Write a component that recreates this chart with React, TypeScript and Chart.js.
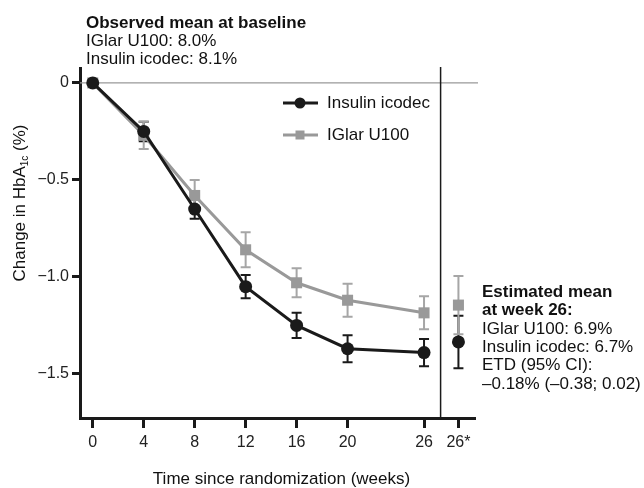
import React, { useEffect, useRef } from "react";
import { Chart, registerables } from "chart.js";

Chart.register(...registerables);

const weeks = [0, 4, 8, 12, 16, 20, 26];
const icodecMean = [0, -0.25, -0.65, -1.05, -1.25, -1.37, -1.39];
const icodecErr = [0, 0.05, 0.05, 0.06, 0.065, 0.07, 0.07];
const iglarMean = [0, -0.27, -0.58, -0.86, -1.03, -1.12, -1.185];
const iglarErr = [0, 0.07, 0.08, 0.09, 0.075, 0.085, 0.085];
const estWeek = [28.7];
const icodecEst = [-1.335];
const icodecEstErr = [0.135];
const iglarEst = [-1.145];
const iglarEstErr = [0.15];
const xTickValues = [0, 4, 8, 12, 16, 20, 26, 28.7];
const xTickLabels = ["0", "4", "8", "12", "16", "20", "26", "26*"];
const yTickValues = [0, -0.5, -1, -1.5];
const yTickLabels = ["0", "\u22120.5", "\u22121.0", "\u22121.5"];
const separatorWeek = 27.3;

const xTitle = "Time since randomization (weeks)";
const baselineTitle = "Observed mean at baseline";
const baselineLines = ["IGlar U100: 8.0%", "Insulin icodec: 8.1%"];
const estLinesBold = ["Estimated mean", "at week 26:"];
const estLines = ["IGlar U100: 6.9%", "Insulin icodec: 6.7%", "ETD (95% CI):", "\u20130.18% (\u20130.38; 0.02)"];
const legendLabels = ["Insulin icodec", "IGlar U100"];

const BLACK = "#1a1a1a";
const GREY = "#999999";
const GREY_BAR = "#a6a6a6";
const FONT = "'Liberation Sans', Arial, sans-serif";

const errorBarPlugin = {
  id: "errorBars",
  beforeDatasetsDraw(chart: any) {
    const ctx = chart.ctx;
    const yScale = chart.scales.y;
    chart.data.datasets.forEach((ds: any, i: number) => {
      if (!ds.errors) return;
      const meta = chart.getDatasetMeta(i);
      ctx.save();
      ctx.strokeStyle = ds.errorColor;
      ctx.lineWidth = 2;
      meta.data.forEach((pt: any, j: number) => {
        const e = ds.errors[j];
        if (!e) return;
        const v = ds.data[j].y;
        const yTop = yScale.getPixelForValue(v + e);
        const yBot = yScale.getPixelForValue(v - e);
        const x = pt.x;
        ctx.beginPath();
        ctx.moveTo(x, yTop);
        ctx.lineTo(x, yBot);
        ctx.moveTo(x - 5, yTop);
        ctx.lineTo(x + 5, yTop);
        ctx.moveTo(x - 5, yBot);
        ctx.lineTo(x + 5, yBot);
        ctx.stroke();
      });
      ctx.restore();
    });
  },
};

const decorPlugin = {
  id: "decor",
  beforeDatasetsDraw(chart: any) {
    const ctx = chart.ctx;
    const { left, right, top, bottom } = chart.chartArea;
    const x = chart.scales.x;
    const y = chart.scales.y;
    ctx.save();
    ctx.strokeStyle = GREY;
    ctx.lineWidth = 1.2;
    const y0 = y.getPixelForValue(0);
    ctx.beginPath();
    ctx.moveTo(left, y0);
    ctx.lineTo(right + 3, y0);
    ctx.stroke();
    ctx.strokeStyle = BLACK;
    ctx.lineWidth = 1.5;
    const xs = x.getPixelForValue(separatorWeek);
    ctx.beginPath();
    ctx.moveTo(xs, top - 1);
    ctx.lineTo(xs, bottom);
    ctx.stroke();
    ctx.restore();
  },
  afterDraw(chart: any) {
    const ctx = chart.ctx;
    const { left, right } = chart.chartArea;
    ctx.save();
    ctx.fillStyle = "#111";
    ctx.textBaseline = "alphabetic";
    ctx.textAlign = "left";
    ctx.font = `bold 17px ${FONT}`;
    ctx.fillText(baselineTitle, 86, 28);
    ctx.font = `17px ${FONT}`;
    baselineLines.forEach((t, i) => ctx.fillText(t, 86, 46 + i * 17.5));

    ctx.font = `bold 17px ${FONT}`;
    estLinesBold.forEach((t, i) => ctx.fillText(t, 482, 297 + i * 18.3));
    ctx.font = `17px ${FONT}`;
    estLines.forEach((t, i) => ctx.fillText(t, 482, 297 + (i + 2) * 18.3));

    // x title
    ctx.textAlign = "center";
    ctx.textBaseline = "middle";
    ctx.font = `17px ${FONT}`;
    ctx.fillText(xTitle, (left + right) / 2 + 4, 479);

    // legend
    ctx.textAlign = "left";
    const lx1 = 283, lx2 = 318, lxm = 300;
    const rows = [103, 135];
    ctx.strokeStyle = BLACK;
    ctx.lineWidth = 3;
    ctx.beginPath();
    ctx.moveTo(lx1, rows[0]);
    ctx.lineTo(lx2, rows[0]);
    ctx.stroke();
    ctx.fillStyle = BLACK;
    ctx.beginPath();
    ctx.arc(lxm, rows[0], 5.5, 0, Math.PI * 2);
    ctx.fill();
    ctx.strokeStyle = GREY;
    ctx.beginPath();
    ctx.moveTo(lx1, rows[1]);
    ctx.lineTo(lx2, rows[1]);
    ctx.stroke();
    ctx.fillStyle = GREY;
    ctx.fillRect(lxm - 4.5, rows[1] - 4.5, 9, 9);
    ctx.fillStyle = "#111";
    ctx.font = `17px ${FONT}`;
    ctx.textBaseline = "middle";
    legendLabels.forEach((t, i) => ctx.fillText(t, 327, rows[i]));

    // y title with subscript
    ctx.translate(20, 203);
    ctx.rotate(-Math.PI / 2);
    ctx.textBaseline = "middle";
    const p1 = "Change in HbA";
    const sub = "1c";
    const p2 = " (%)";
    ctx.font = `17px ${FONT}`;
    const w1 = ctx.measureText(p1).width;
    const w3 = ctx.measureText(p2).width;
    ctx.font = `10px ${FONT}`;
    const w2 = ctx.measureText(sub).width;
    const total = w1 + w2 + w3;
    let cx = -total / 2;
    ctx.font = `17px ${FONT}`;
    ctx.fillText(p1, cx, 0);
    cx += w1;
    ctx.font = `10px ${FONT}`;
    ctx.fillText(sub, cx, 5);
    cx += w2;
    ctx.font = `17px ${FONT}`;
    ctx.fillText(p2, cx, 0);
    ctx.restore();
  },
};

export default function App() {
  const ref = useRef<HTMLCanvasElement | null>(null);
  useEffect(() => {
    if (!ref.current) return;
    const chart = new Chart(ref.current, {
      type: "line",
      data: {
        datasets: [
          {
            label: legendLabels[0],
            data: weeks.map((w, i) => ({ x: w, y: icodecMean[i] })),
            borderColor: BLACK,
            backgroundColor: BLACK,
            borderWidth: 3,
            pointStyle: "circle",
            pointRadius: 6.5,
            pointBorderWidth: 0,
            tension: 0,
            errors: icodecErr,
            errorColor: BLACK,
          } as any,
          {
            label: legendLabels[1],
            data: weeks.map((w, i) => ({ x: w, y: iglarMean[i] })),
            borderColor: GREY,
            backgroundColor: GREY,
            borderWidth: 3,
            pointStyle: "rect",
            pointRadius: 7.8,
            pointBorderWidth: 0,
            tension: 0,
            errors: iglarErr,
            errorColor: GREY_BAR,
          } as any,
          {
            label: "icodec est",
            data: estWeek.map((w, i) => ({ x: w, y: icodecEst[i] })),
            showLine: false,
            borderColor: BLACK,
            backgroundColor: BLACK,
            pointStyle: "circle",
            pointRadius: 6.5,
            pointBorderWidth: 0,
            errors: icodecEstErr,
            errorColor: BLACK,
          } as any,
          {
            label: "iglar est",
            data: estWeek.map((w, i) => ({ x: w, y: iglarEst[i] })),
            showLine: false,
            borderColor: GREY,
            backgroundColor: GREY,
            pointStyle: "rect",
            pointRadius: 7.8,
            pointBorderWidth: 0,
            errors: iglarEstErr,
            errorColor: GREY_BAR,
          } as any,
        ],
      },
      options: {
        animation: false,
        responsive: false,
        devicePixelRatio: 1,
        layout: { padding: { top: 68, right: 169, left: 0, bottom: 0 } },
        plugins: { legend: { display: false }, tooltip: { enabled: false } },
        scales: {
          x: {
            type: "linear",
            min: -1,
            max: 30,
            afterBuildTicks: (s: any) => {
              s.ticks = xTickValues.map((v) => ({ value: v }));
            },
            afterFit: (s: any) => {
              s.height = 70;
            },
            grid: {
              drawOnChartArea: false,
              drawTicks: true,
              tickLength: 10,
              tickWidth: 3,
              tickColor: BLACK,
            },
            border: { color: BLACK, width: 3 },
            ticks: {
              autoSkip: false,
              maxRotation: 0,
              padding: 5,
              color: "#222",
              font: { size: 16, family: FONT },
              callback: (_v: any, i: number) => xTickLabels[i],
            },
          },
          y: {
            type: "linear",
            min: -1.727,
            max: 0.077,
            afterBuildTicks: (s: any) => {
              s.ticks = yTickValues.map((v) => ({ value: v }));
            },
            afterFit: (s: any) => {
              s.width = 80;
            },
            grid: {
              drawOnChartArea: false,
              drawTicks: true,
              tickLength: 8,
              tickWidth: 3,
              tickColor: BLACK,
            },
            border: { color: BLACK, width: 3 },
            ticks: {
              padding: 3,
              color: "#222",
              font: { size: 16, family: FONT },
              callback: (_v: any, i: number) => yTickLabels[i],
            },
          },
        },
      } as any,
      plugins: [errorBarPlugin, decorPlugin],
    });
    return () => chart.destroy();
  }, []);
  return (
    <div style={{ position: "fixed", left: 0, top: 0, width: 644, height: 488, background: "#fff" }}>
      <canvas ref={ref} width={644} height={488} style={{ width: 644, height: 488 }} />
    </div>
  );
}
